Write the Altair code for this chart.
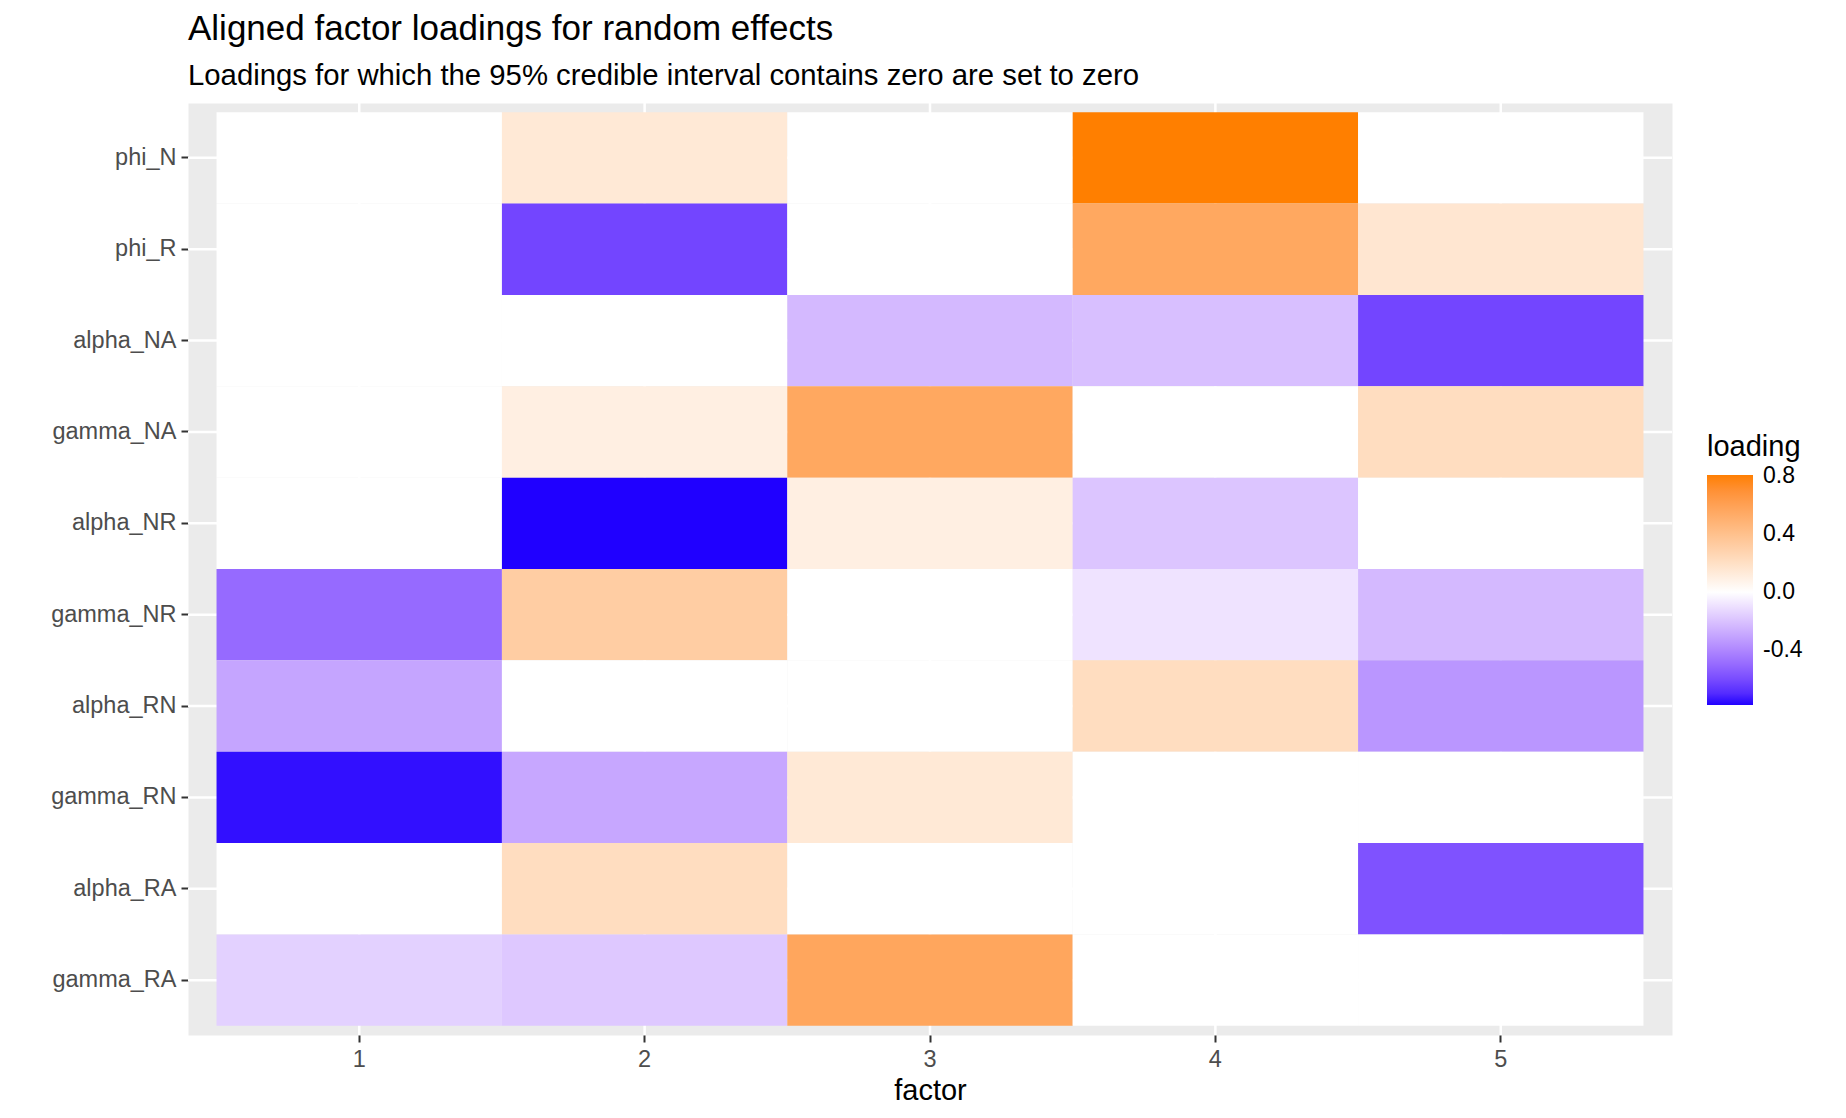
import altair as alt
import pandas as pd

params = ["phi_N", "phi_R", "alpha_NA", "gamma_NA", "alpha_NR",
          "gamma_NR", "alpha_RN", "gamma_RN", "alpha_RA", "gamma_RA"]
factors = ["1", "2", "3", "4", "5"]

# loadings per factor, rows in the order of `params`
f1 = [0.00, 0.00, 0.00, 0.00, 0.00, -0.50, -0.30, -0.76, 0.00, -0.15]
f2 = [0.14, -0.62, 0.00, 0.10, -0.78, 0.32, 0.00, -0.29, 0.22, -0.18]
f3 = [0.00, 0.00, -0.23, 0.56, 0.10, 0.00, 0.00, 0.14, 0.00, 0.57]
f4 = [0.81, 0.56, -0.21, 0.00, -0.19, -0.09, 0.22, 0.00, 0.00, 0.00]
f5 = [0.00, 0.16, -0.62, 0.22, 0.00, -0.23, -0.35, 0.00, -0.58, 0.00]

legend_ticks = [0.8, 0.4, 0.0, -0.4]

rows = []
for f, vals in zip(factors, [f1, f2, f3, f4, f5]):
    for p, v in zip(params, vals):
        rows.append({"factor": f, "param": p, "loading": v})
df = pd.DataFrame(rows)

FONT = "Liberation Sans"

x_enc = alt.X("factor:N", sort=factors,
              scale=alt.Scale(paddingInner=0, paddingOuter=0.1),
              axis=alt.Axis(title="factor", labelAngle=0, grid=False))
y_enc = alt.Y("param:N", sort=params,
              scale=alt.Scale(paddingInner=0, paddingOuter=0.1),
              axis=alt.Axis(title=None, grid=False))

vgrid = alt.Chart(pd.DataFrame({"factor": factors})).mark_rule(
    color="#FFFFFF", strokeWidth=2.5).encode(x=x_enc)
hgrid = alt.Chart(pd.DataFrame({"param": params})).mark_rule(
    color="#FFFFFF", strokeWidth=2.5).encode(y=y_enc)

tiles = alt.Chart(df).mark_rect(strokeWidth=0).encode(
    x=x_enc,
    y=y_enc,
    color=alt.Color("loading:Q",
                    scale=alt.Scale(domain=[-0.78, 0, 0.81],
                                    range=["#2000FF", "#FFFFFF", "#FF7F00"],
                                    interpolate="lab"),
                    legend=alt.Legend(
                        title="loading", orient="none", legendX=1519, legendY=330,
                        direction="vertical", gradientLength=230, gradientThickness=46,
                        gradientStrokeWidth=0, values=legend_ticks,
                        labelExpr="replace(format(datum.value, '.1f'), '\u2212', '-')",
                        titleFontSize=29, titleFontWeight="normal", titleColor="#000000",
                        titleFont=FONT, titlePadding=13,
                        labelFontSize=23, labelColor="#000000", labelFont=FONT,
                        labelOffset=10, labelOverlap=False)),
)

chart = alt.layer(vgrid, hgrid, tiles).properties(
    width=1484, height=932,
    title=alt.Title(
        "Aligned factor loadings for random effects",
        subtitle="Loadings for which the 95% credible interval contains zero are set to zero",
        anchor="start", frame="group", fontSize=35, fontWeight="normal", color="#000000",
        font=FONT, subtitleFont=FONT, subtitleFontSize=29.3, subtitleColor="#000000",
        subtitlePadding=15, offset=10),
    padding={"left": 42, "top": 4, "right": 10, "bottom": 5},
).configure_view(
    fill="#EBEBEB", stroke="transparent"
).configure_axis(
    labelFont=FONT, labelFontSize=23.5, labelColor="#4D4D4D",
    titleFont=FONT, titleFontSize=29, titleFontWeight="normal", titleColor="#000000",
    tickColor="#333333", tickSize=7, tickWidth=2, labelPadding=5,
    domain=False, titlePadding=6,
)

chart.save("out.html", embed_options={"renderer": "svg", "actions": False})
